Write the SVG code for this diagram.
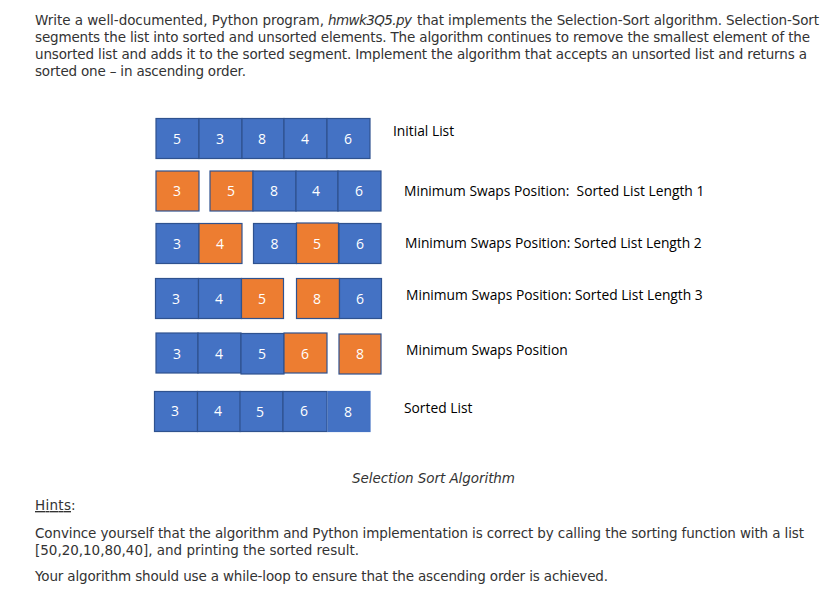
<svg xmlns="http://www.w3.org/2000/svg" width="836" height="592" viewBox="0 0 836 592">
<style>
text{font-family:"DejaVu Sans","Noto Sans",sans-serif;fill:#333}
.b{font-size:13.500px}
.c{fill:#4472c4;stroke:#2f528f;stroke-width:1.2}
.o{fill:#ed7d31;stroke:#2f528f;stroke-width:1.2}
.n{font-family:"Open Sans","Noto Sans",sans-serif;font-size:14px;fill:#fff;text-anchor:middle}
.l{font-family:"Open Sans","Noto Sans",sans-serif;font-size:13.800px;fill:#000;white-space:pre}
</style>
<rect width="836" height="592" fill="#fff"/>
<g id="intro">
<text class="b" x="35" y="25" textLength="289">Write a well-documented, Python program,</text>
<text class="b" x="328" y="25" font-style="italic" textLength="84">hmwk3Q5.py</text>
<text class="b" x="417" y="25" textLength="402">that implements the Selection-Sort algorithm. Selection-Sort</text>
<text class="b" x="35" y="42" textLength="775">segments the list into sorted and unsorted elements. The algorithm continues to remove the smallest element of the</text>
<text class="b" x="35" y="59" textLength="772">unsorted list and adds it to the sorted segment. Implement the algorithm that accepts an unsorted list and returns a</text>
<text class="b" x="35" y="76" textLength="211">sorted one – in ascending order.</text>
</g>
<g id="row1">
<rect class="c" x="156" y="118.500" width="43" height="40"/><text class="n" x="177" y="144">5</text>
<rect class="c" x="199" y="118.500" width="43" height="40"/><text class="n" x="220" y="144">3</text>
<rect class="c" x="242" y="118.500" width="42" height="40"/><text class="n" x="262" y="144">8</text>
<rect class="c" x="284" y="118.500" width="43" height="40"/><text class="n" x="305" y="144">4</text>
<rect class="c" x="327" y="118.500" width="43" height="40"/><text class="n" x="348" y="144">6</text>
</g>
<g id="row2">
<rect class="o" x="156" y="171" width="43" height="40"/><text class="n" x="177" y="196">3</text>
<rect class="o" x="210" y="171" width="43" height="40"/><text class="n" x="231" y="196">5</text>
<rect class="c" x="253" y="171" width="43" height="40"/><text class="n" x="274" y="196">8</text>
<rect class="c" x="296" y="171" width="42" height="40"/><text class="n" x="316" y="196">4</text>
<rect class="c" x="338" y="171" width="43" height="40"/><text class="n" x="359" y="196">6</text>
</g>
<g id="row3">
<rect class="c" x="156" y="223.500" width="43" height="40"/><text class="n" x="177" y="249">3</text>
<rect class="o" x="199" y="223.500" width="43" height="40"/><text class="n" x="220" y="249">4</text>
<rect class="c" x="253.500" y="223.500" width="43" height="40"/><text class="n" x="274.500" y="249">8</text>
<rect class="o" x="296.500" y="223" width="42" height="40.500"/><text class="n" x="317" y="249">5</text>
<rect class="c" x="339" y="223.500" width="42" height="40"/><text class="n" x="360" y="249">6</text>
</g>
<g id="row4">
<rect class="c" x="155.500" y="278.500" width="43" height="40"/><text class="n" x="176" y="304">3</text>
<rect class="c" x="198.500" y="278.500" width="43" height="40"/><text class="n" x="219" y="304">4</text>
<rect class="o" x="241.500" y="278.500" width="42" height="40"/><text class="n" x="262" y="304">5</text>
<rect class="o" x="296.500" y="278.500" width="43" height="40"/><text class="n" x="317" y="304">8</text>
<rect class="c" x="339.500" y="278.500" width="42" height="40"/><text class="n" x="360" y="304">6</text>
</g>
<g id="row5">
<rect class="c" x="156" y="333" width="42" height="40"/><text class="n" x="177" y="359">3</text>
<rect class="c" x="198" y="333" width="43" height="40"/><text class="n" x="219" y="359">4</text>
<rect class="c" x="241" y="333.500" width="43" height="40.500"/><text class="n" x="262" y="359">5</text>
<rect class="o" x="284" y="333" width="43" height="40"/><text class="n" x="305" y="359">6</text>
<rect class="o" x="339" y="334" width="42" height="40"/><text class="n" x="360" y="359">8</text>
</g>
<g id="row6">
<rect class="c" x="154.500" y="391.500" width="43" height="40"/><text class="n" x="175" y="416">3</text>
<rect class="c" x="197.500" y="391.500" width="43" height="40"/><text class="n" x="218" y="416">4</text>
<rect class="c" x="240" y="391.500" width="43" height="40"/><text class="n" x="260" y="417">5</text>
<rect class="c" x="283" y="391.500" width="44" height="40"/><text class="n" x="304" y="416">6</text>
<rect class="c" x="328" y="391.500" width="42" height="40" style="stroke:#4472c4"/><text class="n" x="348" y="417">8</text>
</g>
<g id="labels">
<text class="l" x="393" y="136">Initial List</text>
<text class="l" x="404" y="196">Minimum Swaps Position:  Sorted List Length 1</text>
<text class="l" x="405" y="248">Minimum Swaps Position: Sorted List Length 2</text>
<text class="l" x="406" y="300">Minimum Swaps Position: Sorted List Length 3</text>
<text class="l" x="406" y="355">Minimum Swaps Position</text>
<text class="l" x="404" y="413">Sorted List</text>
</g>
<g id="footer">
<text class="b" x="352" y="483" font-style="italic" textLength="163">Selection Sort Algorithm</text>
<text class="b" x="35" y="510" text-decoration="underline" textLength="36">Hints</text><text class="b" x="71" y="510">:</text>
<text class="b" x="35" y="538" textLength="769">Convince yourself that the algorithm and Python implementation is correct by calling the sorting function with a list</text>
<text class="b" x="35" y="555" textLength="324">[50,20,10,80,40], and printing the sorted result.</text>
<text class="b" x="35" y="581" textLength="573">Your algorithm should use a while-loop to ensure that the ascending order is achieved.</text>
</g>
</svg>
